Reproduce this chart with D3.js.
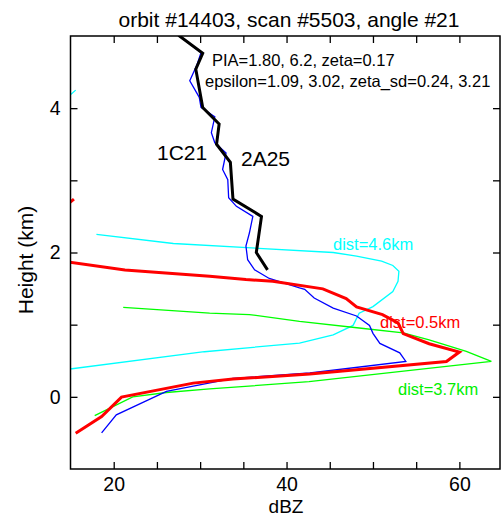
<!DOCTYPE html>
<html><head><meta charset="utf-8">
<script src="https://cdn.jsdelivr.net/npm/d3@7/dist/d3.min.js"></script>
<style>body{margin:0;background:#fff}svg{display:block}</style>
</head><body>
<script>
// ---- data ----
const titleText = "orbit #14403, scan #5503, angle #21";
const xTickValues = [20, 25, 30, 35, 40, 45, 50, 55, 60];
const xTickLabels = [20, 40, 60];
const yTickValues = [0, 1, 2, 3, 4];
const yTickLabels = [0, 2, 4];

// 2A25 (thick black)
const blackH = [5.01, 4.76, 4.54, 4.01, 3.78, 3.50, 3.25, 2.74, 2.50, 2.00, 1.76];
const blackZ = [27.5, 30.3, 29.5, 30.3, 32.2, 31.9, 33.5, 33.8, 37.1, 36.5, 37.8];

// 1C21 (thin blue)
const blueH = [5.01, 4.77, 4.59, 4.38, 4.15, 4.01, 3.88, 3.66, 3.52, 3.38, 3.15, 3.01, 2.76, 2.64, 2.50, 2.27, 2.09, 1.90, 1.76, 1.64, 1.51, 1.49, 1.37, 1.23, 1.12, 0.99, 0.88, 0.74, 0.61, 0.49, 0.33, 0.255, 0.075, -0.25, -0.50];
const blueZ = [27.5, 30.1, 29.6, 28.8, 29.9, 30.1, 31.7, 31.3, 31.7, 33.0, 32.6, 33.2, 33.3, 34.2, 36.1, 35.7, 35.3, 35.5, 36.3, 38.0, 41.5, 42.1, 43.2, 45.4, 48.1, 49.6, 50.0, 50.8, 53.1, 53.8, 42.7, 33.8, 26.1, 20.3, 18.6];

// dist=0.5km (thick red)
const redH = [2.74, 2.50, 2.25, 2.00, 1.865, 1.757, 1.671, 1.625, 1.601, 1.496, 1.361, 1.246, 1.139, 1.024, 0.875, 0.736, 0.621, 0.490, 0.315, 0.246, 0.190, -0.004, -0.274, -0.504];
const redZ = [15.4, 13.0, 10.0, 8.0, 14.9, 21.3, 31.1, 35.3, 38.4, 44.2, 46.9, 48.1, 51.1, 52.9, 53.5, 56.5, 60.0, 58.5, 42.7, 33.8, 29.2, 20.9, 18.6, 15.6];

// dist=3.7km (thin green)
const greenH = [1.24, 1.16, 1.14, 1.045, 0.954, 0.885, 0.79, 0.63, 0.49, 0.21, 0.11, 0.06, 0.0, -0.26];
const greenZ = [21.1, 31.1, 35.7, 41.5, 48.4, 53.5, 56.5, 60.8, 63.7, 42.6, 31.1, 26.1, 22.2, 17.8];

// dist=4.6km (thin cyan), null = missing
const cyanH = [4.00, 4.25, null, 2.25, 2.125, 2.00, 1.95, 1.88, 1.82, 1.74, 1.60, 1.46, 1.25, 1.16, 0.99, 0.86, 0.745, 0.625, 0.385, 0.35];
const cyanZ = [13.2, 15.6, null, 18.0, 26.9, 45.4, 48.1, 51.0, 52.3, 53.0, 52.9, 52.3, 50.0, 48.4, 47.7, 45.4, 41.5, 30.5, 14.9, 12.0];

const W = 501, H = 515;
const svg = d3.select("body").append("svg").attr("width", W).attr("height", H)
  .style("font-family", "'Liberation Sans', Arial, sans-serif");

const x = d3.scaleLinear().domain([15, 64.7]).range([70.5, 500]);
const y = d3.scaleLinear().domain([-1, 5]).range([469, 36]);

svg.append("clipPath").attr("id", "clip").append("rect")
  .attr("x", x(15)).attr("y", y(5)).attr("width", x(64.7) - x(15)).attr("height", y(-1) - y(5));

function zip(hs, zs) { return hs.map((h, i) => ({h, z: zs[i]})); }
const line = d3.line().defined(d => d.h != null && d.z != null).x(d => x(d.z)).y(d => y(d.h));

const g = svg.append("g").attr("clip-path", "url(#clip)");
const series = [
  {hs: cyanH, zs: cyanZ, c: "#00ffff", w: 1.3},
  {hs: greenH, zs: greenZ, c: "#00ff00", w: 1.3},
  {hs: blueH, zs: blueZ, c: "#0000ff", w: 1.3},
  {hs: redH, zs: redZ, c: "#ff0000", w: 3},
  {hs: blackH, zs: blackZ, c: "#000000", w: 3}
];
series.forEach(s => {
  g.append("path").datum(zip(s.hs, s.zs)).attr("d", line)
    .attr("fill", "none").attr("stroke", s.c).attr("stroke-width", s.w)
    .attr("stroke-linejoin", "miter");
});

// axes (ticks inward on all sides)
const tl = 7;
const axB = d3.axisBottom(x).tickValues(xTickValues).tickSize(-tl).tickFormat(d => xTickLabels.includes(d) ? d : "").tickPadding(8);
const axT = d3.axisTop(x).tickValues(xTickValues).tickSize(-tl).tickFormat("");
const axL = d3.axisLeft(y).tickValues(yTickValues).tickSize(-tl).tickFormat(d => yTickLabels.includes(d) ? d : "").tickPadding(10);
const axR = d3.axisRight(y).tickValues(yTickValues).tickSize(-tl).tickFormat("");

function styleAxis(sel) {
  sel.select(".domain").remove();
  sel.selectAll(".tick line").attr("stroke", "#000").attr("stroke-width", 1.3);
  sel.selectAll(".tick text").attr("fill", "#000").style("font-size", "19.5px")
     .style("font-family", "'Liberation Sans', Arial, sans-serif");
}
svg.append("g").attr("transform", `translate(0,${y(-1)})`).call(axB).call(styleAxis);
svg.append("g").attr("transform", `translate(0,${y(5)})`).call(axT).call(styleAxis);
svg.append("g").attr("transform", `translate(${x(15)},0)`).call(axL).call(styleAxis);
svg.append("g").attr("transform", `translate(${x(64.7)},0)`).call(axR).call(styleAxis);

svg.append("rect").attr("x", x(15)).attr("y", y(5)).attr("width", x(64.7) - x(15)).attr("height", y(-1) - y(5))
  .attr("fill", "none").attr("stroke", "#000").attr("stroke-width", 1.5);

// texts
function txt(t, px, py, size, color, anchor) {
  return svg.append("text").attr("x", px).attr("y", py).text(t)
    .style("font-size", size + "px").attr("fill", color || "#000").attr("text-anchor", anchor || "start");
}
txt(titleText, 289, 27, 21, "#000", "middle");
txt("PIA=1.80, 6.2, zeta=0.17", 212, 66, 16.5);
txt("epsilon=1.09, 3.02, zeta_sd=0.24, 3.21", 205, 87, 16.5);
txt("1C21", 157, 160, 21);
txt("2A25", 241, 166, 21);
txt("dist=4.6km", 333, 250, 16.5, "#00ffff");
txt("dist=0.5km", 380, 328, 16.5, "#ff0000");
txt("dist=3.7km", 398, 395, 16.5, "#00ee00");
txt("dBZ", 286, 512.5, 19, "#000", "middle");
svg.append("text").attr("transform", "translate(33,260) rotate(-90)").attr("text-anchor", "middle")
  .style("font-size", "21px").text("Height (km)");
</script>
</body></html>
